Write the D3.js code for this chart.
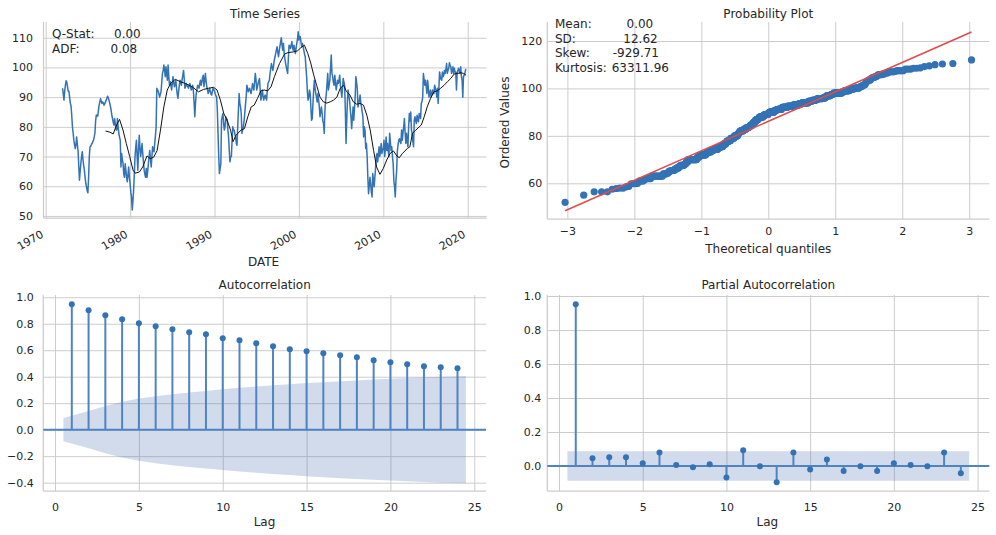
<!DOCTYPE html>
<html>
<head>
<meta charset="utf-8">
<script src="https://cdn.jsdelivr.net/npm/d3@7"></script>
<style>
  body { margin: 0; background: #fff; }
  svg { display: block; font-family: "DejaVu Sans", sans-serif; }
  text { fill: #262626; }
  .grid line { stroke: #cccccc; stroke-width: 1; }
  .spine { stroke: #cccccc; stroke-width: 1.25; }
  .tick-lbl text { font-size: 11px; font-family: "DejaVu Sans", sans-serif; fill: #262626; }
  .ttl { font-size: 12px; text-anchor: middle; }
  .note { font-size: 12px; }
</style>
</head>
<body>
<svg id="chart" width="996" height="535"></svg>
<script>
// ── DATA ─────────────────────────────────────────────────────────────────
// monthly series, first value = Jan 1972
const tsStartYear = 1972;
const tsValues = [
  93, 91, 89, 92, 94, 95.5, 95, 93.5, 92, 92, 90, 88,               // 1972
  87, 84, 80, 78, 75.5, 74, 72.7, 74, 76.6, 74, 72, 67,             // 1973
  62, 65, 67.6, 70, 71.6, 69, 67, 65.4, 63, 61, 59.8, 58.5,         // 1974
  57.8, 63, 70, 73.3, 73.5, 74, 74.4, 75, 75.5, 76.6, 78, 82,       // 1975
  84, 83.8, 83.6, 85.6, 87.3, 88.5, 89.5, 88.5, 87.9, 88.4, 88, 87.3, // 1976
  87.8, 88.4, 89, 89.6, 90.3, 89.8, 89, 88, 87, 85.6, 84, 82.8,     // 1977
  81.5, 80.6, 82.8, 81, 79, 78.9, 82.8, 80, 77.8, 76.5, 75.5, 66.5, // 1978
  71, 69, 67.6, 64, 63, 67.6, 65.4, 63, 61.5, 64, 66.5, 63,         // 1979
  61, 58, 56.4, 52, 55, 58.7, 64, 70, 73, 75.5, 70, 65.4,           // 1980
  72, 77.2, 73, 70, 72, 74.4, 71, 68, 65.4, 64, 63, 66,             // 1981
  63, 65, 67.6, 70, 72, 69, 66.5, 70, 73.3, 72, 71.6, 74.4,         // 1982
  77, 80, 93, 92.4, 92, 91, 90, 91, 91.8, 95, 98, 99,               // 1983
  100.8, 99, 96.9, 100.2, 98, 95.7, 100.8, 97, 94, 95.2, 94, 92.4,  // 1984
  94.5, 96.9, 95, 93.5, 94.5, 95.7, 93, 91, 89.6, 92, 94, 95.7,     // 1985
  95, 94, 96, 97.5, 99, 96, 93, 93.5, 94.6, 94, 93.5, 93,           // 1986
  94, 94.6, 93.5, 92.4, 93, 94, 92, 88, 83.4, 88, 91.2, 92.5,       // 1987
  94, 93.5, 93, 94.5, 95.7, 94, 95, 96.5, 97.4, 93.5, 95.5, 98,     // 1988
  95.5, 93.5, 92.5, 91.2, 92, 93, 92, 91, 90.7, 92, 93, 92.5,       // 1989
  92, 91.2, 90.5, 90, 86, 77.8, 70, 64.3, 66, 67.6, 82.2, 83.5,     // 1990
  84.5, 81, 78.9, 80, 83.4, 82.2, 82.5, 79, 76.6, 72, 68.2, 70,     // 1991
  70, 75.5, 80, 79, 78.9, 77.5, 76.6, 74.5, 73.8, 80, 85.6, 91.2,   // 1992
  88, 86.7, 84.5, 77.8, 79, 80, 82, 84.5, 87.3, 90, 94, 93,         // 1993
  91.8, 92.5, 93, 92, 91.2, 92.5, 94.6, 93.5, 92.4, 95, 98, 96,     // 1994
  92.4, 93.5, 94.6, 95.5, 96.3, 92, 89, 90.5, 92.4, 90.5, 89, 90,   // 1995
  90.7, 89.8, 89, 92, 94.6, 95.2, 95.7, 98, 99.7, 101.3, 100, 99,   // 1996
  100.5, 102.5, 103.5, 104.7, 106, 107, 105, 103.6, 105.5, 107.2, 108.5, 110, // 1997
  107.5, 105.8, 108.1, 105, 103, 101.5, 100.2, 99, 98, 103, 107.5, 107,       // 1998
  106.4, 107.5, 108.7, 106.5, 105.8, 107.5, 106, 104.7, 106.5, 108.1, 109.5, 112, // 1999
  109.2, 110.5, 110.3, 108.5, 107, 108.1, 107, 105.8, 104.5, 103.6, 100, 96.9,   // 2000
  92, 89, 90, 92.4, 91.2, 86.7, 82.2, 82.8, 88, 92.4, 95.7, 93,     // 2001
  91.2, 90, 88.4, 91.2, 89, 86.7, 83.4, 85, 86.7, 84.5, 82, 81.1,   // 2002
  77.8, 85.6, 89, 91.2, 94.6, 98, 92.4, 94, 95.7, 100, 104.2, 98,   // 2003
  96.9, 95, 94, 97.4, 95, 92.4, 94, 95.7, 94.6, 95.5, 97.4, 94,     // 2004
  92, 90, 93, 96.3, 95, 94, 85.6, 74.4, 82, 89, 92.4, 90.5,         // 2005
  89, 86, 83.4, 79.4, 83, 86.7, 82.2, 86, 90, 96.9, 95, 93,         // 2006
  86.7, 87.9, 89, 90.7, 87.9, 86.7, 85, 83.4, 76.6, 80, 78.9, 72.7, // 2007
  74.4, 70, 63, 57.5, 60, 63, 60.9, 58, 56.4, 64.3, 62, 59.8,       // 2008
  63, 66, 70, 71, 68.2, 70.5, 73.3, 70, 72, 74.4, 71, 72,           // 2009
  72.7, 75.5, 70, 73, 76.6, 72, 74.4, 72, 70, 77.8, 75, 72,         // 2010
  73.3, 70, 67.6, 62, 59.8, 56.4, 62, 65.4, 72, 74, 75.5, 76,       // 2011
  75, 74.4, 78.9, 75.5, 78, 80, 82.8, 78, 74.4, 77.8, 75.5, 73.3,   // 2012
  80, 84.5, 82, 85, 78.9, 77.8, 75, 73.3, 82.2, 83.4, 82, 81.1,     // 2013
  83.9, 82.5, 81.7, 84.5, 83.5, 82.8, 87.9, 88.5, 90, 98, 96, 94,   // 2014
  95.7, 93.5, 91.2, 95.7, 93, 90, 91.2, 92.4, 90, 91, 92.4, 91.2,   // 2015
  91.2, 94, 93, 92, 90, 93, 87.9, 93, 98.5, 96.9, 96, 95.7,         // 2016
  98.5, 96.9, 97.5, 99, 98, 99.5, 101.3, 98, 99, 99.7, 101.6, 100.8, // 2017
  100.2, 98, 99, 100.2, 98, 99.7, 98.5, 98.5, 92.4, 98, 99, 99.7,   // 2018
  98.8, 98, 100.2, 97, 95.7, 90, 96.9, 97.5, 98, 99.3, 99.3         // 2019
];

// rolling mean line (black)
const maYears = [
  1977.1, 1977.6, 1978.0, 1978.4, 1978.75, 1979.15, 1979.55, 1979.95, 1980.35, 1980.6,
  1981.1, 1981.5, 1982.0, 1982.4, 1982.8, 1983.2, 1983.6, 1984.0, 1984.4, 1984.8,
  1985.35, 1985.95, 1986.55, 1987.35, 1988.1, 1988.7, 1989.3, 1989.9, 1990.3, 1990.7,
  1991.1, 1991.5, 1991.9, 1992.2, 1992.55, 1993.15, 1993.55, 1993.95, 1994.35, 1994.7,
  1995.1, 1995.5, 1995.9, 1996.3, 1996.7, 1997.1, 1997.7, 1998.3, 1998.7, 1999.3,
  1999.85, 2000.25, 2000.65, 2001.05, 2001.4, 2001.75, 2002.1, 2002.5, 2002.9, 2003.3,
  2003.7, 2004.1, 2004.5, 2004.9, 2005.3, 2005.65, 2006.05, 2006.45, 2006.85, 2007.25,
  2007.65, 2008.05, 2008.45, 2008.85, 2009.2, 2009.6, 2010.0, 2010.4, 2010.8, 2011.2,
  2011.6, 2011.9, 2012.25, 2012.85, 2013.15, 2013.45, 2013.85, 2014.25, 2014.5, 2014.85,
  2015.2, 2015.6, 2016.0, 2016.4, 2016.8, 2017.2, 2017.6, 2018.0, 2018.4, 2018.8,
  2019.2, 2019.5, 2019.8
];
const maValues = [
  78.6, 78.2, 77.6, 80.6, 82.5, 79, 74.4, 70, 65.4, 64.4,
  64.8, 66.5, 70.2, 69.3, 69.8, 72, 78.9, 86.7, 92.4, 94.6,
  96, 95.2, 94.6, 93.5, 91.8, 92.6, 93, 93.3, 92.4, 89,
  84.5, 82.2, 78.9, 75, 77.2, 78.9, 79.4, 83.4, 86.7, 87.3,
  89.6, 92.1, 92.4, 92.1, 93.5, 96.9, 101.3, 104.5, 105, 105.2,
  105.6, 106.7, 107.5, 104.7, 101.5, 97.5, 94, 90, 88.4, 88,
  88.4, 89, 90, 93, 94, 91.8, 90.7, 88.4, 87.6, 87.9,
  87.3, 83.9, 78.9, 72, 66.5, 64, 66, 68.8, 71, 71.9,
  70.2, 69.6, 71, 72.7, 73.3, 77.8, 78.9, 80, 80.6, 83.4,
  86.7, 89.6, 91.8, 92.1, 93, 94, 95.2, 96.3, 97.8, 98,
  98.2, 98, 97.4
];

const lags = [1, 2, 3, 4, 5, 6, 7, 8, 9, 10, 11, 12, 13, 14, 15, 16, 17, 18, 19, 20, 21, 22, 23, 24];
const acfValues = [0.947, 0.902, 0.864, 0.834, 0.804, 0.781, 0.758, 0.736, 0.72, 0.69, 0.675, 0.652,
                   0.63, 0.607, 0.592, 0.577, 0.562, 0.547, 0.524, 0.509, 0.494, 0.479, 0.471, 0.463];
const acfBand = [0.088, 0.141, 0.178, 0.21, 0.235, 0.253, 0.268, 0.281, 0.293, 0.305, 0.316, 0.326,
                 0.335, 0.343, 0.352, 0.359, 0.366, 0.372, 0.378, 0.384, 0.39, 0.395, 0.4, 0.405];
const pacfValues = [0.951, 0.045, 0.051, 0.051, 0.016, 0.08, 0.006, -0.008, 0.01, -0.067, 0.092, -0.002,
                    -0.096, 0.08, -0.02, 0.039, -0.029, -0.002, -0.029, 0.016, 0.006, -0.002, 0.08, -0.043];
const pacfBand = 0.087;

// tick labels
const tsXTicks = [1970, 1980, 1990, 2000, 2010, 2020];
const tsYTicks = [50, 60, 70, 80, 90, 100, 110];
const ppXTicks = [-3, -2, -1, 0, 1, 2, 3];
const ppYTicks = [60, 80, 100, 120];
const lagTicks = [0, 5, 10, 15, 20, 25];
const acfYTicks = [-0.4, -0.2, 0.0, 0.2, 0.4, 0.6, 0.8, 1.0];
const pacfYTicks = [0.0, 0.2, 0.4, 0.6, 0.8, 1.0];

// texts
const tsNotes = [["Q-Stat:", "0.00", 114], ["ADF:", "0.08", 110.5]];
const ppNotes = [["Mean:", "0.00", 626.5], ["SD:", "12.62", 623.3], ["Skew:", "-929.71", 612.7], ["Kurtosis:", "63311.96", 611.7]];

// ── STYLE ────────────────────────────────────────────────────────────────
const BLUE = "#3373b5";
const STEM = "#4f84c3";
const BAND = "#4c72b0";
const RED = "#e04b4b";

const svg = d3.select("#chart");

// grid + spines + tick labels for one axes box
function frame(x, y, xTicks, yTicks, xFmt, yFmt, yPad, xPad) {
  const [x0, x1] = x.range();
  const [y0, y1] = y.range();
  svg.append("g").attr("class", "grid").attr("transform", `translate(0,${y0})`)
    .call(d3.axisBottom(x).tickValues(xTicks).tickSize(-(y0 - y1)).tickFormat(""))
    .call(a => a.select(".domain").remove());
  svg.append("g").attr("class", "grid").attr("transform", `translate(${x0},0)`)
    .call(d3.axisLeft(y).tickValues(yTicks).tickSize(-(x1 - x0)).tickFormat(""))
    .call(a => a.select(".domain").remove());
  svg.append("line").attr("class", "spine").attr("x1", x0).attr("x2", x0).attr("y1", y1).attr("y2", y0);
  svg.append("line").attr("class", "spine").attr("x1", x0).attr("x2", x1).attr("y1", y0).attr("y2", y0);
  svg.append("g").attr("class", "tick-lbl").attr("transform", `translate(${x0},0)`)
    .call(d3.axisLeft(y).tickValues(yTicks).tickSize(0).tickPadding(yPad).tickFormat(yFmt))
    .call(a => a.select(".domain").remove());
  return svg.append("g").attr("class", "tick-lbl").attr("transform", `translate(0,${y0})`)
    .call(d3.axisBottom(x).tickValues(xTicks).tickSize(0).tickPadding(xPad).tickFormat(xFmt))
    .call(a => a.select(".domain").remove());
}

function title(txt, x, y, cls) {
  svg.append("text").attr("class", cls || "ttl").attr("x", x).attr("y", y).text(txt);
}

// ── TIME SERIES ──────────────────────────────────────────────────────────
const tsData = tsValues.map((v, i) => ({ t: tsStartYear + i / 12, v }));
const maData = maYears.map((t, i) => ({ t, v: maValues[i] }));

const xTS = d3.scaleLinear().domain([1969.74, 2022.25]).range([43.5, 486.7]);
const yTS = d3.scaleLinear().domain([49.3, 115.3]).range([218, 22]);

const tsX = frame(xTS, yTS, tsXTicks, tsYTicks, d3.format("d"), d3.format("d"), 10.5, 0);
tsX.selectAll(".tick text")
  .attr("text-anchor", "end")
  .attr("x", -2).attr("y", 18.5).attr("dy", null)
  .attr("transform", "rotate(-30,-2,18.5)");

const line = (x, y) => d3.line().x(d => x(d.t)).y(d => y(d.v));
svg.append("path").datum(tsData)
  .attr("fill", "none").attr("stroke", BLUE).attr("stroke-width", 1.5)
  .attr("stroke-linejoin", "round").attr("d", line(xTS, yTS));
svg.append("path").datum(maData)
  .attr("fill", "none").attr("stroke", "#111").attr("stroke-width", 1)
  .attr("d", line(xTS, yTS));

title("Time Series", 265, 17.5);
title("DATE", 263.5, 266);
tsNotes.forEach((n, i) => {
  svg.append("text").attr("class", "note").attr("x", 52).attr("y", 37.7 + i * 15.4).text(n[0]);
  svg.append("text").attr("class", "note").attr("x", n[2]).attr("y", 37.7 + i * 15.4).text(n[1]);
});

// ── PROBABILITY PLOT ─────────────────────────────────────────────────────
// inverse normal CDF (Acklam)
function normInv(p) {
  const a = [-3.969683028665376e+01, 2.209460984245205e+02, -2.759285104469687e+02, 1.383577518672690e+02, -3.066479806614716e+01, 2.506628277459239e+00];
  const b = [-5.447609879822406e+01, 1.615858368580409e+02, -1.556989798598866e+02, 6.680131188771972e+01, -1.328068155288572e+01];
  const c = [-7.784894002430293e-03, -3.223964580411365e-01, -2.400758277161838e+00, -2.549732539343734e+00, 4.374664141464968e+00, 2.938163982698783e+00];
  const d = [7.784695709041462e-03, 3.224671290700398e-01, 2.445134137142996e+00, 3.754408661907416e+00];
  const pl = 0.02425;
  if (p < pl) {
    const q = Math.sqrt(-2 * Math.log(p));
    return (((((c[0]*q+c[1])*q+c[2])*q+c[3])*q+c[4])*q+c[5]) / ((((d[0]*q+d[1])*q+d[2])*q+d[3])*q+1);
  }
  if (p > 1 - pl) return -normInv(1 - p);
  const q = p - 0.5, r = q * q;
  return (((((a[0]*r+a[1])*r+a[2])*r+a[3])*r+a[4])*r+a[5])*q / (((((b[0]*r+b[1])*r+b[2])*r+b[3])*r+b[4])*r+1);
}

const ordered = tsValues.slice().sort(d3.ascending);
const n = ordered.length;
const ppData = ordered.map((v, i) => {
  let m;
  if (i === n - 1) m = Math.pow(0.5, 1 / n);
  else if (i === 0) m = 1 - Math.pow(0.5, 1 / n);
  else m = (i + 1 - 0.3175) / (n + 0.365);
  return { q: normInv(m), v };
});
const mq = d3.mean(ppData, d => d.q), mv = d3.mean(ppData, d => d.v);
const slope = d3.sum(ppData, d => (d.q - mq) * (d.v - mv)) / d3.sum(ppData, d => (d.q - mq) ** 2);
const icpt = mv - slope * mq;

const xPP = d3.scaleLinear().domain([-3.30, 3.30]).range([547.3, 989.3]);
const yPP = d3.scaleLinear().domain([44.95, 128.0]).range([219, 22]);
frame(xPP, yPP, ppXTicks, ppYTicks, d3.format("d"), d3.format("d"), 5, 8.2);

svg.append("g").selectAll("circle").data(ppData).join("circle")
  .attr("cx", d => xPP(d.q)).attr("cy", d => yPP(d.v)).attr("r", 3.6)
  .attr("fill", BLUE);
const qEnds = d3.extent(ppData, d => d.q);
svg.append("line")
  .attr("x1", xPP(qEnds[0])).attr("y1", yPP(icpt + slope * qEnds[0]))
  .attr("x2", xPP(qEnds[1])).attr("y2", yPP(icpt + slope * qEnds[1]))
  .attr("stroke", RED).attr("stroke-width", 1.5);

title("Probability Plot", 768.3, 17.5);
title("Theoretical quantiles", 768.3, 252.5);
svg.append("text").attr("class", "ttl")
  .attr("transform", "translate(508.5,122.5) rotate(-90)").text("Ordered Values");
ppNotes.forEach((n, i) => {
  svg.append("text").attr("class", "note").attr("x", 555).attr("y", 27.7 + i * 14.8).text(n[0]);
  svg.append("text").attr("class", "note").attr("x", n[2]).attr("y", 27.7 + i * 14.8).text(n[1]);
});

// ── CORRELOGRAMS ─────────────────────────────────────────────────────────
function correlogram(x, y, values, band) {
  const bandPts = lags.map((l, i) => ({
    l: i === 0 ? l - 0.5 : (i === lags.length - 1 ? l + 0.5 : l),
    b: band[i]
  }));
  svg.append("path").datum(bandPts)
    .attr("fill", BAND).attr("fill-opacity", 0.26)
    .attr("d", d3.area().x(d => x(d.l)).y0(d => y(-d.b)).y1(d => y(d.b)));
  svg.append("line")
    .attr("x1", x.range()[0]).attr("x2", x.range()[1])
    .attr("y1", y(0)).attr("y2", y(0))
    .attr("stroke", STEM).attr("stroke-width", 2);
  svg.append("g").selectAll("line").data(lags).join("line")
    .attr("x1", d => x(d)).attr("x2", d => x(d))
    .attr("y1", y(0)).attr("y2", (d, i) => y(values[i]))
    .attr("stroke", STEM).attr("stroke-width", 2);
  svg.append("g").selectAll("circle").data(lags).join("circle")
    .attr("cx", d => x(d)).attr("cy", (d, i) => y(values[i])).attr("r", 3)
    .attr("fill", BLUE);
}

const xACF = d3.scaleLinear().domain([-0.7, 25.7]).range([43.3, 486]);
const yACF = d3.scaleLinear().domain([-0.463, 1.017]).range([491, 295]);
frame(xACF, yACF, lagTicks, acfYTicks, d3.format("d"), d3.format(".1f"), 9.5, 11.9);
correlogram(xACF, yACF, acfValues, acfBand);
title("Autocorrelation", 264.7, 289.4);
title("Lag", 264.5, 525.5);

const xPACF = d3.scaleLinear().domain([-0.7, 25.7]).range([547.3, 989.3]);
const yPACF = d3.scaleLinear().domain([-0.147, 1.006]).range([491, 295]);
frame(xPACF, yPACF, lagTicks, pacfYTicks, d3.format("d"), d3.format(".1f"), 6, 11.9);
correlogram(xPACF, yPACF, pacfValues, lags.map(() => pacfBand));
title("Partial Autocorrelation", 768.3, 289.4);
title("Lag", 767.3, 525.5);
</script>
</body>
</html>
